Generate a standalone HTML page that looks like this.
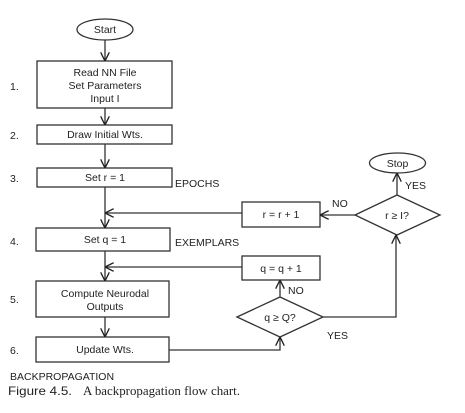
<!DOCTYPE html>
<html><head><meta charset="utf-8"><style>
body{margin:0;background:#fff}
svg{display:block}
text{font-family:"Liberation Sans",sans-serif;fill:#222}
</style></head><body>
<svg width="465" height="413" viewBox="0 0 465 413" xmlns="http://www.w3.org/2000/svg">
<defs><marker id="a" viewBox="0 0 10 10" refX="10" refY="5" markerWidth="7" markerHeight="7" orient="auto"><path d="M0,0 L10,5 L0,10" fill="none" stroke="#222" stroke-width="1.5"/></marker></defs>
<g stroke="#333" stroke-width="1.3" fill="none">
<ellipse cx="105" cy="29.5" rx="28" ry="10.5"/>
<rect x="37" y="61" width="135" height="47"/>
<rect x="37" y="125" width="135" height="19"/>
<rect x="37" y="168" width="135" height="19"/>
<rect x="36" y="228" width="134" height="23"/>
<rect x="36" y="281" width="133" height="36"/>
<rect x="36" y="337" width="133" height="25"/>
<rect x="242" y="202" width="78" height="25"/>
<rect x="242" y="256" width="78" height="24"/>
<ellipse cx="397.5" cy="163" rx="28" ry="10"/>
<path d="M237,317 L280,297 L323,317 L280,337 Z"/>
<path d="M355,215 L397,195 L440,215 L397,235 Z"/>
<g marker-end="url(#a)">
<path d="M105,40 V61"/>
<path d="M105,108 V125"/>
<path d="M105,144 V168"/>
<path d="M105,187 V228"/>
<path d="M105,251 V281"/>
<path d="M105,317 V337"/>
<path d="M242,213 H105"/>
<path d="M242,267 H105"/>
<path d="M169,350 H280 V337"/>
<path d="M280,297 V280"/>
<path d="M323,317 H396 V235"/>
<path d="M355,215 H320"/>
<path d="M397,195 V173"/>
</g>
</g>
<g font-size="10.5" text-anchor="middle">
<text x="105" y="33">Start</text>
<text x="105" y="76">Read NN File</text>
<text x="105" y="89">Set Parameters</text>
<text x="105" y="102">Input I</text>
<text x="105" y="138">Draw Initial Wts.</text>
<text x="105" y="181">Set r = 1</text>
<text x="105" y="243">Set q = 1</text>
<text x="105" y="297">Compute Neurodal</text>
<text x="105" y="310">Outputs</text>
<text x="105" y="353">Update Wts.</text>
<text x="281" y="218">r = r + 1</text>
<text x="281" y="272">q = q + 1</text>
<text x="280" y="321">q ≥ Q?</text>
<text x="397" y="219">r ≥ I?</text>
<text x="397.5" y="167">Stop</text>
</g>
<g font-size="10.5">
<text x="175" y="187">EPOCHS</text>
<text x="175" y="246">EXEMPLARS</text>
<text x="332" y="207">NO</text>
<text x="405" y="189">YES</text>
<text x="288" y="294">NO</text>
<text x="327" y="339">YES</text>
<text x="10" y="90">1.</text>
<text x="10" y="139">2.</text>
<text x="10" y="182">3.</text>
<text x="10" y="245">4.</text>
<text x="10" y="303">5.</text>
<text x="10" y="354">6.</text>
<text x="10" y="380">BACKPROPAGATION</text>
</g>
<text x="8" y="395" font-size="12" textLength="64" lengthAdjust="spacingAndGlyphs">Figure 4.5.</text>
<text x="83" y="395" font-size="12.5" textLength="157" lengthAdjust="spacingAndGlyphs" style="font-family:'Liberation Serif',serif">A backpropagation flow chart.</text>
</svg>
</body></html>
